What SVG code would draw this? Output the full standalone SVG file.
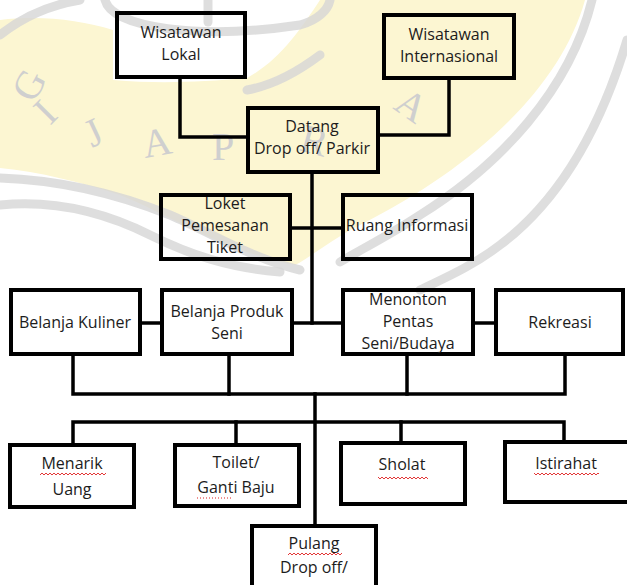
<svg xmlns="http://www.w3.org/2000/svg" width="627" height="585" viewBox="0 0 627 585">
<defs>
<style>
.box{fill:none;stroke:#000;stroke-width:4}
.ln{fill:none;stroke:#000;stroke-width:3.5;stroke-linecap:square}
.t{font-family:"Open Sans","Noto Sans",sans-serif;font-size:16px;fill:#1c1c1c;text-anchor:middle}
.wm{fill:none;stroke:#d6d6d6;stroke-width:9;stroke-linecap:round;opacity:0.8}
.wl{font-family:"Liberation Serif",serif;font-size:40px;fill:#cfcfcf}
</style>
<pattern id="wave" width="4" height="4" patternUnits="userSpaceOnUse">
<path d="M0,3 L2,1 L4,3" fill="none" stroke="#e02020" stroke-width="0.9"/>
</pattern>
</defs>
<rect width="627" height="585" fill="#fff"/>
<g id="watermark">
<path d="M0,20 C40,15 80,20 113,30 L113,80 C160,84 200,82 247,78 C280,60 300,30 320,0 L585,0 C560,90 470,170 360,225 C330,240 310,258 295,265 C220,250 170,215 120,195 C80,182 40,172 0,168 Z" fill="#fcf6d2"/>
<path class="wm" d="M0,178 C60,180 120,195 170,215 C210,232 250,258 300,270"/>
<path class="wm" d="M0,205 C50,200 100,210 150,235 C190,255 230,268 280,272"/>
<path class="wm" d="M592,0 C570,90 500,165 420,215 C390,235 360,250 340,262"/>
<path class="wm" d="M627,40 C600,130 560,200 500,245 C470,268 440,280 420,290"/>
<path class="wm" d="M105,0 C112,28 200,40 300,25 C318,20 328,10 330,0"/>
<path class="wm" d="M0,35 C25,15 50,5 80,0"/>
<path class="wm" d="M247,90 C275,85 300,70 320,55"/>
<path class="wm" d="M208,0 V22"/>
<text class="wl" transform="translate(34,104) rotate(-62)">G</text>
<text class="wl" transform="translate(50,126) rotate(-45)">I</text>
<text class="wl" transform="translate(92,148) rotate(-25)">J</text>
<text class="wl" transform="translate(145,158) rotate(-10)">A</text>
<text class="wl" transform="translate(212,160) rotate(0)">P</text>
<text class="wl" transform="translate(298,150) rotate(15)">R</text>
<text class="wl" transform="translate(392,108) rotate(35)">A</text>
</g>
<g id="connectors">
<path class="ln" d="M180,79 V137 H246"/>
<path class="ln" d="M380,135 H449 V80"/>
<path class="ln" d="M312,174 V323"/>
<path class="ln" d="M292,228 H341"/>
<path class="ln" d="M142,323 H160"/>
<path class="ln" d="M294,323 H341"/>
<path class="ln" d="M475,323 H494"/>
<path class="ln" d="M73,356 V394 H565 V356"/>
<path class="ln" d="M229,356 V394"/>
<path class="ln" d="M407,356 V394"/>
<path class="ln" d="M315,394 V524"/>
<path class="ln" d="M73,443 V422 H564 V440"/>
<path class="ln" d="M236,422 V443"/>
<path class="ln" d="M401,422 V441"/>
</g>
<g id="wisatawan-lokal">
<rect class="box" x="117" y="13" width="128" height="64"/>
<text class="t" x="181" y="38">Wisatawan</text>
<text class="t" x="181" y="60">Lokal</text>
</g>
<g id="wisatawan-internasional">
<rect class="box" x="384" y="15" width="130" height="63"/>
<text class="t" x="449" y="40">Wisatawan</text>
<text class="t" x="449" y="62">Internasional</text>
</g>
<g id="datang">
<rect class="box" x="248" y="108" width="130" height="64"/>
<text class="t" x="312" y="132">Datang</text>
<text class="t" x="312" y="154">Drop off/ Parkir</text>
</g>
<g id="loket">
<rect class="box" x="161" y="195" width="129" height="64"/>
<text class="t" x="225" y="209">Loket</text>
<text class="t" x="225" y="231">Pemesanan</text>
<text class="t" x="225" y="253">Tiket</text>
</g>
<g id="ruang-informasi">
<rect class="box" x="343" y="195" width="129" height="64"/>
<text class="t" x="407" y="231">Ruang Informasi</text>
</g>
<g id="belanja-kuliner">
<rect class="box" x="11" y="290" width="129" height="64"/>
<text class="t" x="75" y="328">Belanja Kuliner</text>
</g>
<g id="belanja-produk-seni">
<rect class="box" x="162" y="290" width="130" height="64"/>
<text class="t" x="227" y="317">Belanja Produk</text>
<text class="t" x="227" y="339">Seni</text>
</g>
<g id="menonton">
<rect class="box" x="343" y="290" width="130" height="64"/>
<text class="t" x="408" y="305">Menonton</text>
<text class="t" x="408" y="327">Pentas</text>
<text class="t" x="408" y="349">Seni/Budaya</text>
</g>
<g id="rekreasi">
<rect class="box" x="496" y="290" width="127" height="64"/>
<text class="t" x="560" y="328">Rekreasi</text>
</g>
<g id="menarik-uang">
<rect class="box" x="10" y="445" width="124" height="62"/>
<text class="t" x="72" y="469">Menarik</text>
<text class="t" x="72" y="495">Uang</text>
<rect x="40" y="472" width="66" height="4" fill="url(#wave)"/>
</g>
<g id="toilet">
<rect class="box" x="175" y="445" width="124" height="61"/>
<text class="t" x="236" y="468">Toilet/</text>
<text class="t" x="236" y="493">Ganti Baju</text>
<path d="M197,498 H233" stroke="#e02020" stroke-width="1" stroke-dasharray="1,2"/>
</g>
<g id="sholat">
<rect class="box" x="341" y="443" width="124" height="61"/>
<text class="t" x="402" y="470">Sholat</text>
<rect x="378" y="476" width="50" height="4" fill="url(#wave)"/>
</g>
<g id="istirahat">
<rect class="box" x="505" y="442" width="124" height="60"/>
<text class="t" x="566" y="469">Istirahat</text>
<rect x="534" y="472" width="65" height="4" fill="url(#wave)"/>
</g>
<g id="pulang">
<rect class="box" x="252" y="526" width="124" height="80"/>
<text class="t" x="314" y="549">Pulang</text>
<text class="t" x="314" y="573">Drop off/</text>
<rect x="288" y="552" width="54" height="4" fill="url(#wave)"/>
</g>
</svg>
